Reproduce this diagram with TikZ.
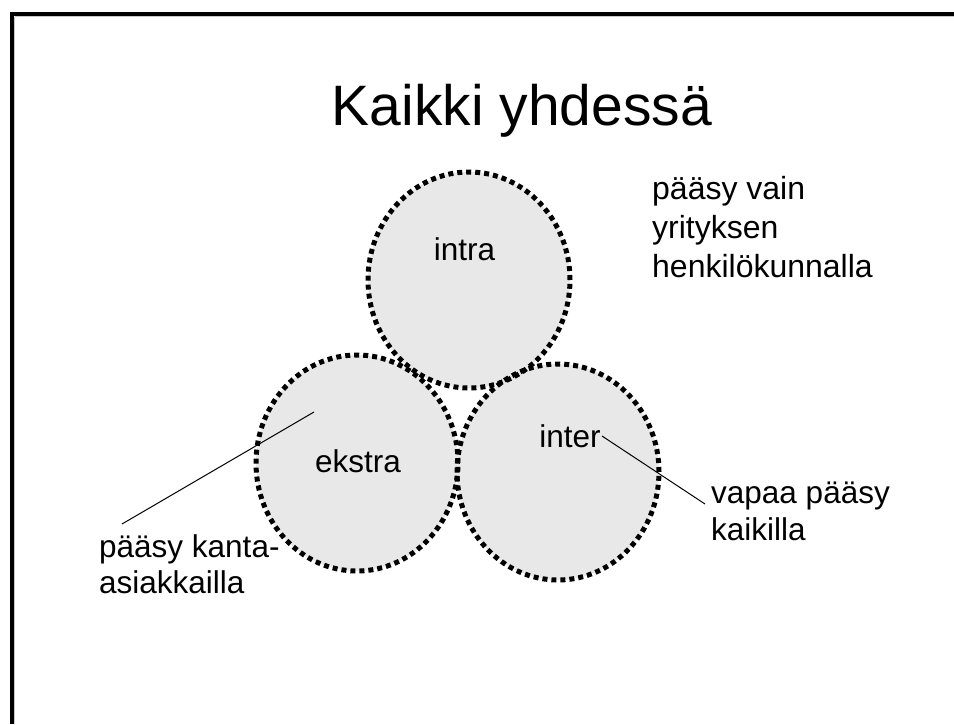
\documentclass[tikz,border=0pt]{standalone}
\usepackage{fontspec}
\setmainfont{Liberation Sans}
\usetikzlibrary{shapes.geometric}
\definecolor{circfill}{HTML}{E8E8E8}
\definecolor{shadowgray}{HTML}{C8C8C8}
\tikzset{
  ring/.style={ellipse, minimum width=202pt, minimum height=216pt, inner sep=0pt,
    draw=black, line width=5pt, dash pattern=on 5pt off 4pt},
  lbl/.style={font=\fontsize{31.5}{39}\selectfont, inner sep=0pt, anchor=base},
  note/.style={inner sep=0pt, align=left, anchor=base west},
  pointer/.style={draw=black, line width=1pt},
  frameline/.style={line width=4pt, draw=black},
}
\begin{document}
\begin{tikzpicture}[x=1pt,y=-1pt]
\useasboundingbox (0,0) rectangle (954,724);
% frame
\draw[shadowgray, line width=1pt] (15,16.5) -- (954,16.5);
\draw[shadowgray, line width=1pt] (14.5,17) -- (14.5,724);
\draw[frameline] (10,14) -- (954,14);
\draw[frameline] (12,12) -- (12,724);
% title
\node[font=\fontsize{57}{68}\selectfont, inner sep=0pt, anchor=base] (title) at (522,125) {Kaikki yhdessä};
% fills
\fill[circfill] (469,280) ellipse [x radius=101, y radius=108];
\fill[circfill] (357,463) ellipse [x radius=101, y radius=108];
\fill[circfill] (558,472) ellipse [x radius=101, y radius=108];
% rings
\node[ring] (intra) at (469,280) {};
\node[ring] (ekstra) at (357,463) {};
\node[ring] (inter) at (558,472) {};
% labels
\node[lbl] (lintra) at (464.5,260) {intra};
\node[lbl] (lekstra) at (358,472) {ekstra};
\node[lbl] (linter) at (570,447) {inter};
% notes (anchor is at the baseline of the last line)
\node[note, font=\fontsize{32}{39}\selectfont] (nintra) at (652,277) {pääsy vain\\yrityksen\\henkilökunnalla};
\node[note, font=\fontsize{31.5}{36}\selectfont] (nekstra) at (99,593) {pääsy kanta-\\asiakkailla};
\node[note, font=\fontsize{31.5}{37}\selectfont] (ninter) at (711,540) {vapaa pääsy\\kaikilla};
% pointers
\coordinate (pe1) at (314,412);
\coordinate (pe2) at (122,524);
\coordinate (pi1) at (602,436);
\coordinate (pi2) at (705,504);
\draw[pointer] (pe1) -- (pe2);
\draw[pointer] (pi1) -- (pi2);
\end{tikzpicture}
\end{document}
